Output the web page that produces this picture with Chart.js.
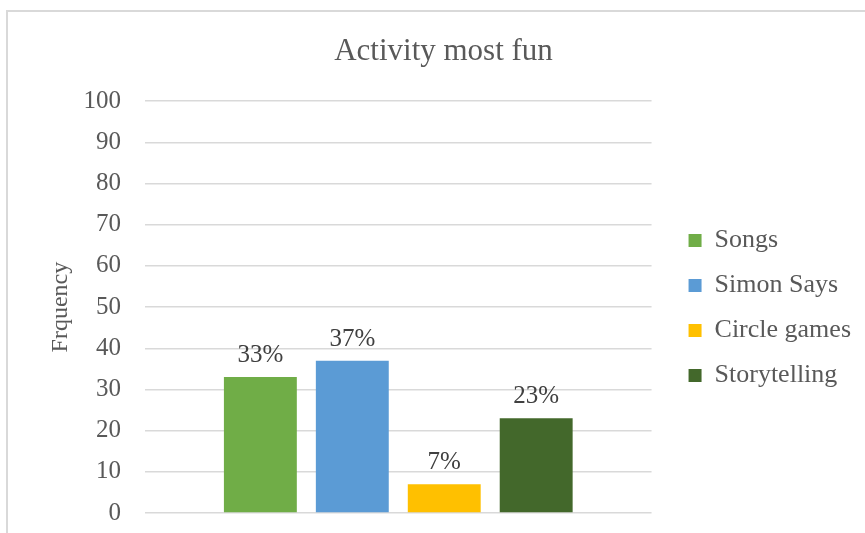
<!DOCTYPE html>
<html>
<head>
<meta charset="utf-8">
<script src="https://cdn.jsdelivr.net/npm/chart.js@4/dist/chart.umd.min.js"></script>
<style>
  html, body { margin: 0; padding: 0; background: #fff; overflow: hidden; }
  #frame {
    position: absolute;
    left: 6px;
    top: 10px;
    width: 870px;
    height: 545px;
    border-left: 2px solid #d9d9d9;
    border-top: 2px solid #d9d9d9;
  }
  #funChart { display: block; }
</style>
</head>
<body>
<div id="frame">
  <canvas id="funChart" width="857" height="540"></canvas>
</div>
<script>
// activities and share of children who picked each one (%)
var activities = ["Songs", "Simon Says", "Circle games", "Storytelling"];
var percentages = [33, 37, 7, 23];
var barColors = ["#70AD47", "#5B9BD5", "#FFC000", "#43682B"];
var yTicks = { min: 0, max: 100, step: 10 };

var serif = "'Liberation Serif', 'Times New Roman', serif";
var grey = "#595959";

// writes the percentage above each bar
var barLabels = {
  id: "barLabels",
  afterDatasetsDraw: function (chart) {
    var c = chart.ctx;
    c.save();
    c.font = "25px " + serif;
    c.fillStyle = "#404040";
    c.textAlign = "center";
    c.textBaseline = "alphabetic";
    chart.data.datasets.forEach(function (ds, i) {
      var meta = chart.getDatasetMeta(i);
      meta.data.forEach(function (bar, j) {
        c.fillText(ds.data[j] + "%", bar.x, bar.y - 15);
      });
    });
    c.restore();
  },
};

// nudge the legend and title boxes after layout
var boxShift = {
  id: "boxShift",
  afterLayout: function (chart) {
    var lg = chart.legend;
    lg.left += 18;
    lg.right += 18;
    lg.top += 30;
    lg.bottom += 30;
    var tb = chart.titleBlock;
    tb.left += 18;
    tb.right += 18;
  },
};

var datasets = activities.map(function (name, i) {
  return {
    label: name,
    data: [percentages[i]],
    backgroundColor: barColors[i],
    borderWidth: 0,
    categoryPercentage: 0.726,
    barPercentage: 0.793,
  };
});

var ctx = document.getElementById("funChart");
var funChart = new Chart(ctx, {
  type: "bar",
  data: {
    labels: [""],
    datasets: datasets,
  },
  plugins: [barLabels, boxShift],
  options: {
    responsive: false,
    animation: false,
    layout: {
      padding: { left: 0, right: 22, top: 0, bottom: 8 },
    },
    plugins: {
      title: {
        display: true,
        text: "Activity most fun",
        color: grey,
        font: { family: serif, size: 31, weight: "normal" },
        padding: { top: 21, bottom: 31 },
      },
      legend: {
        position: "right",
        labels: {
          color: grey,
          font: { family: serif, size: 26 },
          boxWidth: 13,
          boxHeight: 13,
          padding: 19,
        },
      },
      tooltip: { enabled: false },
    },
    scales: {
      x: {
        display: false,
      },
      y: {
        min: yTicks.min,
        max: yTicks.max,
        ticks: {
          stepSize: yTicks.step,
          color: grey,
          padding: 24,
          font: { family: serif, size: 25 },
        },
        grid: {
          color: "#d9d9d9",
          lineWidth: 1.5,
          drawTicks: false,
        },
        border: { display: false },
        title: {
          display: true,
          text: "Frquency",
          color: grey,
          font: { family: serif, size: 24 },
          padding: { top: 38, bottom: 0 },
        },
        afterFit: function (scale) {
          scale.width = 137;
        },
      },
    },
  },
});
</script>
</body>
</html>
